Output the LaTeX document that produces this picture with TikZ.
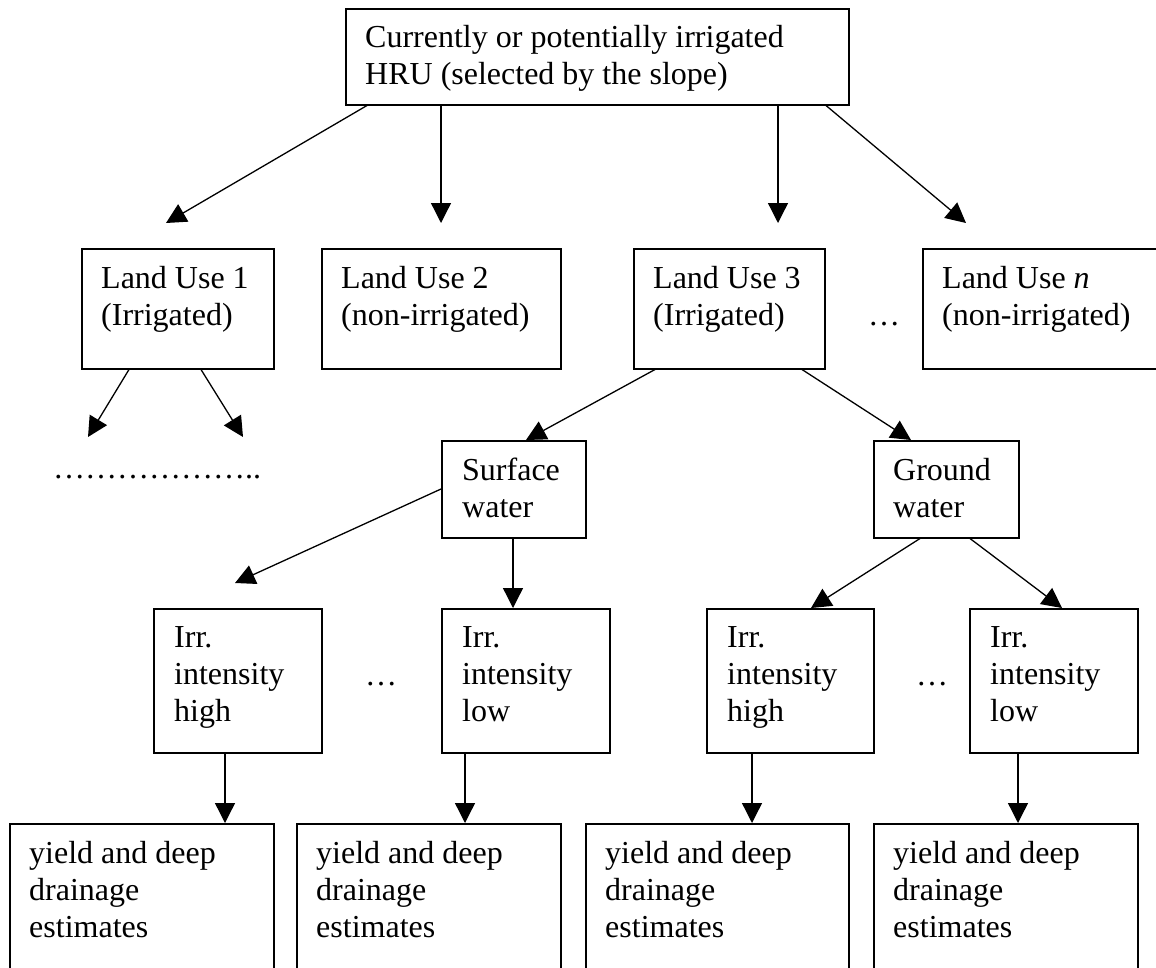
\documentclass[tikz,border=0pt]{standalone}
\usepackage{fontspec}
\setmainfont{Liberation Serif}
\usetikzlibrary{arrows.meta}
\begin{document}
\begin{tikzpicture}[x=1pt,y=-1pt,
  box/.style={draw, line width=1.5pt, rectangle, anchor=north west, inner sep=0pt, minimum width=#1},
  txt/.style={anchor=north west, inner sep=0pt, align=left, font=\fontsize{32}{37}\selectfont},
  arr/.style={line width=1.3pt, -{Triangle[length=20pt,width=20pt]}},
  dots/.style={anchor=base west, inner sep=0pt, font=\fontsize{32}{37}\selectfont}]
\clip (0,0) rectangle (1156,967);
\useasboundingbox (0,0) rectangle (1156,967);
% boxes
\node[box=503pt, minimum height=96pt] (top) at (345,8) {};
\node[box=192pt, minimum height=120pt] (lu1) at (81,248) {};
\node[box=239pt, minimum height=120pt] (lu2) at (321,248) {};
\node[box=191pt, minimum height=120pt] (lu3) at (633,248) {};
\node[box=260pt, minimum height=120pt] (lu4) at (922,248) {};
\node[box=144pt, minimum height=97pt] (sw) at (441,440) {};
\node[box=145pt, minimum height=97pt] (gw) at (873,440) {};
\node[box=168pt, minimum height=144pt] (ia) at (153,608) {};
\node[box=168pt, minimum height=144pt] (ib) at (441,608) {};
\node[box=167pt, minimum height=144pt] (ic) at (706,608) {};
\node[box=168pt, minimum height=144pt] (id) at (969,608) {};
\node[box=264pt, minimum height=170pt] (ya) at (9,823) {};
\node[box=264pt, minimum height=170pt] (yb) at (296,823) {};
\node[box=263pt, minimum height=170pt] (yc) at (585,823) {};
\node[box=264pt, minimum height=170pt] (yd) at (873,823) {};
% texts
\node[txt] (topt) at ([shift={(20pt,-13pt)}]top.north west) {\strut Currently or potentially irrigated\\HRU (selected by the slope)};
\node[txt] (lu1t) at ([shift={(20pt,-14pt)}]lu1.north west) {\strut Land Use 1\\(Irrigated)};
\node[txt] (lu2t) at ([shift={(20pt,-14pt)}]lu2.north west) {\strut Land Use 2\\(non-irrigated)};
\node[txt] (lu3t) at ([shift={(20pt,-14pt)}]lu3.north west) {\strut Land Use 3\\(Irrigated)};
\node[txt] (lu4t) at ([shift={(20pt,-14pt)}]lu4.north west) {\strut Land Use \textit{n}\\(non-irrigated)};
\node[txt] (swt) at ([shift={(21pt,-14pt)}]sw.north west) {\strut Surface\\water};
\node[txt] (gwt) at ([shift={(20pt,-14pt)}]gw.north west) {\strut Ground\\water};
\node[txt] (iat) at ([shift={(21pt,-13pt)}]ia.north west) {\strut Irr.\\intensity\\high};
\node[txt] (ibt) at ([shift={(21pt,-13pt)}]ib.north west) {\strut Irr.\\intensity\\low};
\node[txt] (ict) at ([shift={(21pt,-13pt)}]ic.north west) {\strut Irr.\\intensity\\high};
\node[txt] (idt) at ([shift={(21pt,-13pt)}]id.north west) {\strut Irr.\\intensity\\low};
\node[txt] (yat) at ([shift={(20pt,-14pt)}]ya.north west) {\strut yield and deep\\drainage\\estimates};
\node[txt] (ybt) at ([shift={(20pt,-14pt)}]yb.north west) {\strut yield and deep\\drainage\\estimates};
\node[txt] (yct) at ([shift={(20pt,-14pt)}]yc.north west) {\strut yield and deep\\drainage\\estimates};
\node[txt] (ydt) at ([shift={(20pt,-14pt)}]yd.north west) {\strut yield and deep\\drainage\\estimates};
% ellipses
\node[dots] (e1) at (868,325) {…};
\node[dots] (e2) at (365,685) {…};
\node[dots] (e3) at (916,685) {…};
\node[dots] (e4) at (53,478) {………………..};
% free ends
\coordinate (c1) at (166,223);
\coordinate (c2) at (441,223);
\coordinate (c3) at (778,223);
\coordinate (c4) at (966,223);
\coordinate (c5) at (88,437);
\coordinate (c6) at (243,437);
\coordinate (c7) at (235,583);
% connectors
\draw[arr] ([xshift=22pt]top.south west) -- (c1);
\draw[arr] ([xshift=96pt]top.south west) -- (c2);
\draw[arr] ([xshift=433pt]top.south west) -- (c3);
\draw[arr] ([xshift=481pt]top.south west) -- (c4);
\draw[arr] ([xshift=48pt]lu1.south west) -- (c5);
\draw[arr] ([xshift=120pt]lu1.south west) -- (c6);
\draw[arr] ([xshift=22pt]lu3.south west) -- ([xshift=85pt]sw.north west);
\draw[arr] ([xshift=169pt]lu3.south west) -- ([xshift=38pt]gw.north west);
\draw[arr] ([yshift=-49pt]sw.north west) -- (c7);
\draw[arr] ([xshift=72pt]sw.south west) -- ([xshift=72pt]ib.north west);
\draw[arr] ([xshift=47pt]gw.south west) -- ([xshift=105pt]ic.north west);
\draw[arr] ([xshift=97pt]gw.south west) -- ([xshift=93pt]id.north west);
\draw[arr] ([xshift=72pt]ia.south west) -- ([xshift=216pt]ya.north west);
\draw[arr] ([xshift=24pt]ib.south west) -- ([xshift=169pt]yb.north west);
\draw[arr] ([xshift=46pt]ic.south west) -- ([xshift=167pt]yc.north west);
\draw[arr] ([xshift=49pt]id.south west) -- ([xshift=145pt]yd.north west);
\end{tikzpicture}
\end{document}
